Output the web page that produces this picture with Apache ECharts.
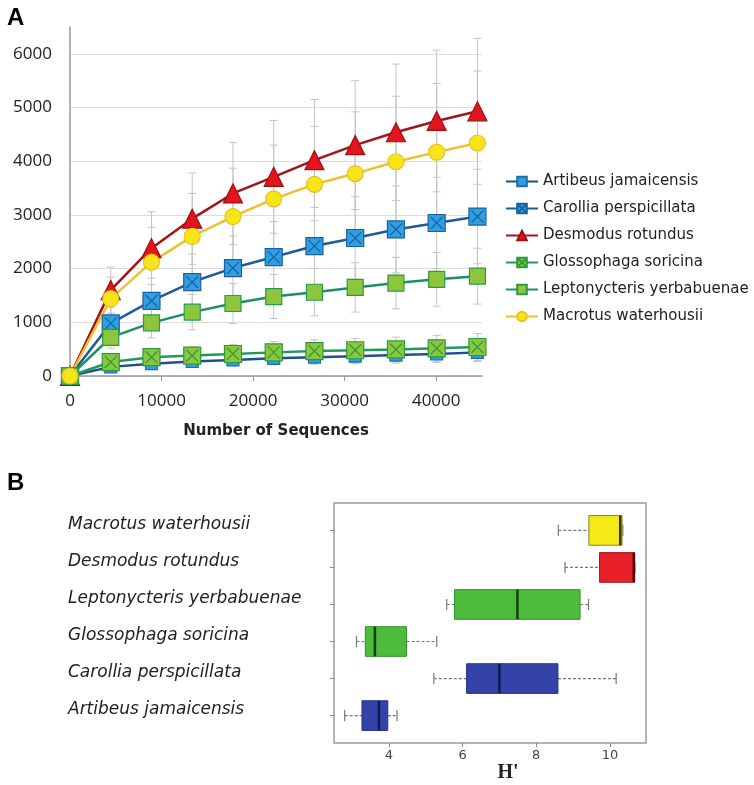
<!DOCTYPE html>
<html>
<head>
<meta charset="utf-8">
<script src="https://cdn.jsdelivr.net/npm/echarts@6/dist/echarts.min.js"></script>
<style>
html,body{margin:0;padding:0;background:#fff;}
#chart{width:754px;height:785px;}
</style>
</head>
<body>
<div id="chart"></div>
<script>
// ---------- Panel A data ----------
const sequences = [0, 4450, 8900, 13350, 17800, 22250, 26700, 31150, 35600, 40050, 44500];
const artibeus      = [0, 170, 230, 270, 300, 330, 350, 370, 390, 410, 440];
const carollia      = [0, 980, 1400, 1750, 2010, 2215, 2420, 2570, 2730, 2850, 2970];
const desmodus      = [0, 1600, 2380, 2930, 3400, 3710, 4020, 4300, 4540, 4750, 4930];
const glossophaga   = [0, 260, 350, 380, 410, 440, 465, 480, 495, 515, 540];
const leptonycteris = [0, 720, 990, 1190, 1350, 1480, 1560, 1650, 1730, 1800, 1860];
const macrotus      = [0, 1440, 2120, 2600, 2970, 3300, 3570, 3770, 3990, 4170, 4340];
// error bar half-widths (estimated)
const artibeusErr      = [0, 60, 80, 100, 110, 120, 130, 140, 150, 160, 170];
const carolliaErr      = [0, 300, 420, 520, 600, 660, 720, 770, 810, 850, 880];
const desmodusErr      = [0, 430, 680, 850, 950, 1050, 1130, 1200, 1270, 1320, 1360];
const glossophagaErr   = [0, 100, 140, 160, 180, 200, 210, 220, 230, 240, 250];
const leptonycterisErr = [0, 200, 280, 330, 370, 410, 440, 460, 480, 500, 520];
const macrotusErr      = [0, 400, 650, 800, 900, 1000, 1080, 1150, 1220, 1280, 1340];
const yTicksA = [0, 1000, 2000, 3000, 4000, 5000, 6000];
const xTicksA = [0, 10000, 20000, 30000, 40000];

// ---------- Panel B data (bottom to top) ----------
const boxNames  = ['Artibeus jamaicensis', 'Carollia perspicillata', 'Glossophaga soricina', 'Leptonycteris yerbabuenae', 'Desmodus rotundus', 'Macrotus waterhousii'];
const boxMin    = [2.80, 5.22, 3.12, 5.57, 8.78, 8.60];
const boxQ1     = [3.27, 6.11, 3.36, 5.78, 9.72, 9.43];
const boxMedian = [3.73, 7.00, 3.62, 7.49, 10.65, 10.28];
const boxQ3     = [3.97, 8.59, 4.48, 9.19, 10.67, 10.33];
const boxMax    = [4.22, 10.17, 5.30, 9.42, 10.68, 10.35];
const xTicksB   = [4, 6, 8, 10];

// ---------- styles ----------
const boxFill   = ['#3443a8', '#3443a8', '#4dbb3b', '#4dbb3b', '#e8202a', '#f5ea16'];
const boxBorder = ['#26308a', '#26308a', '#2f8f2a', '#2f8f2a', '#a01018', '#8a8420'];
const boxMed    = ['#111a55', '#111a55', '#123d12', '#123d12', '#4a0000', '#3a3500'];
const sqX = 'path://M0,0L20,0L20,20L0,20Z M3,3L17,17 M17,3L3,17';

const seriesDefs = [
  {name: 'Artibeus jamaicensis', data: artibeus, err: artibeusErr, symbol: 'rect', size: 12, fill: '#2e9fe0', border: '#1c6eb0', line: '#1f4f8f'},
  {name: 'Carollia perspicillata', data: carollia, err: carolliaErr, symbol: sqX, size: 17, fill: '#2e9fe0', border: '#1a5fa0', line: '#1f5a9a'},
  {name: 'Desmodus rotundus', data: desmodus, err: desmodusErr, symbol: 'triangle', size: 19, fill: '#e3141b', border: '#9e1015', line: '#a0141a'},
  {name: 'Glossophaga soricina', data: glossophaga, err: glossophagaErr, symbol: sqX, size: 17, fill: '#8cc63f', border: '#2a9a3a', line: '#1f9a5a'},
  {name: 'Leptonycteris yerbabuenae', data: leptonycteris, err: leptonycterisErr, symbol: 'rect', size: 16, fill: '#8cc63f', border: '#2a9a4a', line: '#1a9064'},
  {name: 'Macrotus waterhousii', data: macrotus, err: macrotusErr, symbol: 'circle', size: 16, fill: '#f7e51a', border: '#e8c020', line: '#eec12a'}
];

// build error bar table
const errData = [];
seriesDefs.forEach(d => {
  sequences.forEach((x, i) => {
    if (d.err[i] > 0) errData.push([x, d.data[i] - d.err[i], d.data[i] + d.err[i]]);
  });
});

const boxData = boxNames.map((n, i) => [i + 1, boxMin[i], boxQ1[i], boxMedian[i], boxQ3[i], boxMax[i]]);

const chart = echarts.init(document.getElementById('chart'));

const lineSeries = seriesDefs.map(d => ({
  type: 'line',
  name: d.name,
  xAxisIndex: 0, yAxisIndex: 0,
  data: sequences.map((x, i) => [x, d.data[i]]),
  symbol: d.symbol,
  symbolSize: d.size,
  showAllSymbol: true,
  lineStyle: {color: d.line, width: 2.5},
  itemStyle: {color: d.fill, borderColor: d.border, borderWidth: 1.2},
  z: 5,
  animation: false
}));

const option = {
  animation: false,
  backgroundColor: '#fff',
  title: [
    {text: 'A', left: 7, top: 6, padding: 0, textStyle: {fontSize: 24, fontWeight: 'bold', fontFamily: 'Liberation Sans', color: '#000'}},
    {text: 'B', left: 7, top: 471, padding: 0, textStyle: {fontSize: 24, fontWeight: 'bold', fontFamily: 'Liberation Sans', color: '#000'}}
  ],
  legend: {
    data: seriesDefs.map(d => d.name),
    orient: 'vertical',
    left: 500, top: 168,
    itemWidth: 32, itemHeight: 12, itemGap: 10,
    textStyle: {fontSize: 15, fontFamily: 'DejaVu Sans', color: '#222', lineHeight: 17}
  },
  grid: [
    {left: 70, top: 27, width: 412, height: 349, containLabel: false},
    {left: 70, top: 54, width: 412, height: 322, containLabel: false},
    {left: 334, top: 503, width: 312, height: 240, show: true, borderColor: '#9a9a9a', borderWidth: 1.5, backgroundColor: '#fff', containLabel: false}
  ],
  xAxis: [
    {
      type: 'value', gridIndex: 0, min: 0, max: 45000,
      axisLine: {show: true, lineStyle: {color: '#999', width: 1.5}},
      axisTick: {show: true, length: 5, lineStyle: {color: '#999'}, customValues: xTicksA},
      axisLabel: {customValues: xTicksA, formatter: v => String(v), fontSize: 17, fontFamily: 'Open Sans', color: '#222', margin: 17},
      splitLine: {show: false},
      name: 'Number of Sequences', nameLocation: 'middle', nameGap: 48,
      nameTextStyle: {fontSize: 15, fontWeight: 'bold', fontFamily: 'DejaVu Sans', color: '#222'}
    },
    {type: 'value', gridIndex: 1, min: 0, max: 45000, show: false},
    {
      type: 'value', gridIndex: 2, min: 2.51, max: 10.98,
      axisLine: {show: false},
      axisTick: {show: true, length: 4, lineStyle: {color: '#888'}, customValues: xTicksB},
      axisLabel: {customValues: xTicksB, formatter: v => String(v), fontSize: 13, fontFamily: 'DejaVu Sans', color: '#444', margin: 6},
      splitLine: {show: false},
      name: "H'", nameLocation: 'middle', nameGap: 20,
      nameTextStyle: {fontSize: 20, fontWeight: 'bold', fontFamily: 'Liberation Serif', color: '#222', padding: [0, 0, 0, 36]}
    }
  ],
  yAxis: [
    {
      type: 'value', gridIndex: 0, min: 0, max: 6500,
      axisLine: {show: true, lineStyle: {color: '#999', width: 1.5}},
      axisTick: {show: false},
      axisLabel: {customValues: yTicksA, formatter: v => String(v), fontSize: 17, fontFamily: 'Open Sans', color: '#222', margin: 18},
      splitLine: {show: false}
    },
    {
      type: 'value', gridIndex: 1, min: 0, max: 6000, interval: 1000,
      axisLine: {show: false}, axisTick: {show: false}, axisLabel: {show: false},
      splitLine: {show: true, lineStyle: {color: '#dcdcdc', width: 1}}
    },
    {
      type: 'value', gridIndex: 2, min: 0.26, max: 6.74,
      axisLine: {show: false},
      axisTick: {show: true, length: 4, lineStyle: {color: '#888'}, customValues: [1, 2, 3, 4, 5, 6]},
      axisLabel: {
        customValues: [1, 2, 3, 4, 5, 6],
        formatter: v => boxNames[Math.round(v) - 1] || '',
        align: 'left', margin: 266, verticalAlign: 'bottom', lineHeight: 12,
        fontSize: 17, fontStyle: 'italic', fontFamily: 'DejaVu Sans', color: '#222'
      },
      splitLine: {show: false}
    }
  ],
  series: [
    {
      type: 'custom', name: 'err', xAxisIndex: 0, yAxisIndex: 0,
      data: errData, encode: {x: 0, y: [1, 2]}, z: 1, silent: true,
      renderItem: function (params, api) {
        const x = api.value(0), lo = api.value(1), hi = api.value(2);
        const a = api.coord([x, lo]), b = api.coord([x, hi]);
        const w = 4, st = {stroke: '#c4c4c4', lineWidth: 1};
        return {type: 'group', children: [
          {type: 'line', shape: {x1: a[0], y1: a[1], x2: b[0], y2: b[1]}, style: st},
          {type: 'line', shape: {x1: a[0] - w, y1: a[1], x2: a[0] + w, y2: a[1]}, style: st},
          {type: 'line', shape: {x1: b[0] - w, y1: b[1], x2: b[0] + w, y2: b[1]}, style: st}
        ]};
      }
    },
    ...lineSeries,
    {
      type: 'custom', name: 'box', xAxisIndex: 2, yAxisIndex: 2,
      data: boxData, encode: {x: [1, 2, 3, 4, 5], y: 0}, silent: true, z: 3,
      renderItem: function (params, api) {
        const i = params.dataIndex;
        const y = api.value(0);
        const pMin = api.coord([api.value(1), y]);
        const pQ1 = api.coord([api.value(2), y]);
        const pMed = api.coord([api.value(3), y]);
        const pQ3 = api.coord([api.value(4), y]);
        const pMax = api.coord([api.value(5), y]);
        const h = api.size([0, 0.8])[1];
        const c = api.size([0, 0.3])[1] / 2;
        const dash = {stroke: '#777', lineWidth: 1.2, lineDash: [3, 2]};
        const capSt = {stroke: '#777', lineWidth: 1.2};
        return {type: 'group', children: [
          {type: 'line', shape: {x1: pMin[0], y1: pMin[1], x2: pQ1[0], y2: pQ1[1]}, style: dash},
          {type: 'line', shape: {x1: pQ3[0], y1: pQ3[1], x2: pMax[0], y2: pMax[1]}, style: dash},
          {type: 'line', shape: {x1: pMin[0], y1: pMin[1] - c, x2: pMin[0], y2: pMin[1] + c}, style: capSt},
          {type: 'line', shape: {x1: pMax[0], y1: pMax[1] - c, x2: pMax[0], y2: pMax[1] + c}, style: capSt},
          {type: 'rect', shape: {x: pQ1[0], y: pQ1[1] - h / 2, width: pQ3[0] - pQ1[0], height: h},
            style: {fill: boxFill[i], stroke: boxBorder[i], lineWidth: 1}},
          {type: 'line', shape: {x1: pMed[0], y1: pMed[1] - h / 2, x2: pMed[0], y2: pMed[1] + h / 2},
            style: {stroke: boxMed[i], lineWidth: 2.5}}
        ]};
      }
    }
  ]
};
chart.setOption(option);
</script>
</body>
</html>
